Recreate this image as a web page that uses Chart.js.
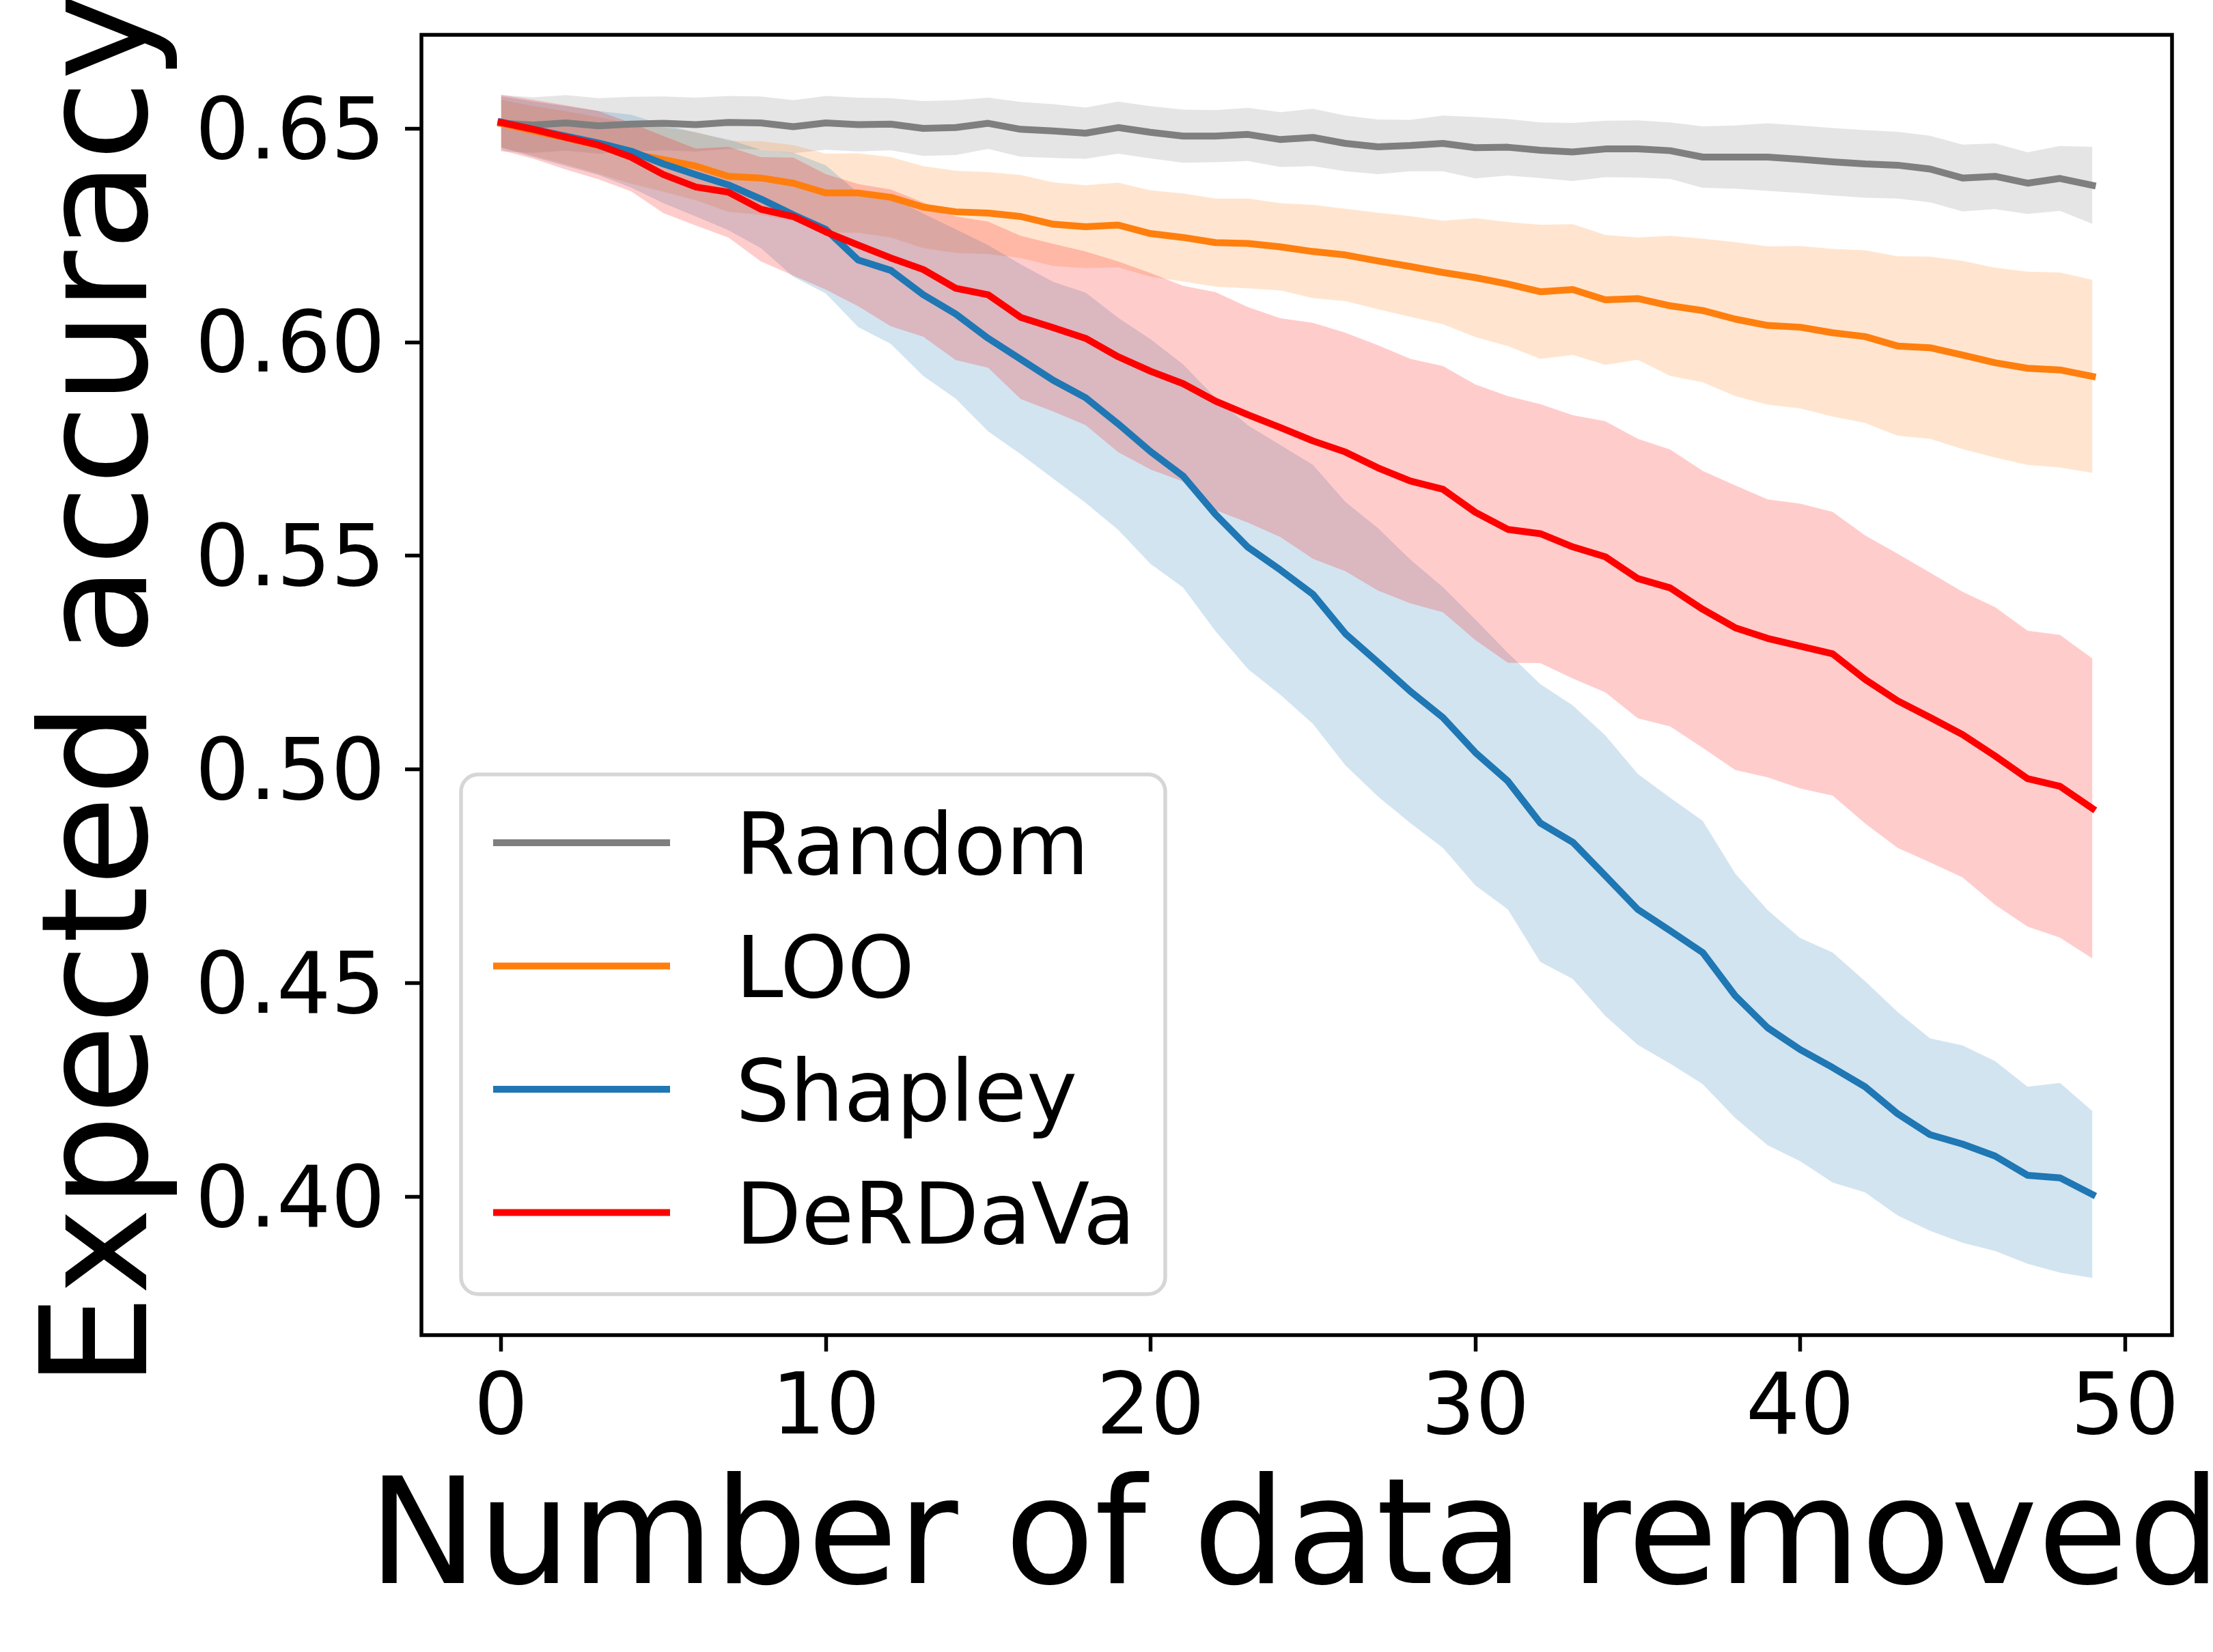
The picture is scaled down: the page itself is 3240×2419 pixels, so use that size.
<!DOCTYPE html>
<html>
<head>
<meta charset="utf-8">
<script src="https://cdn.jsdelivr.net/npm/chart.js@4.4.0/dist/chart.umd.min.js"></script>
<style>
  html, body { margin: 0; padding: 0; background: #fff; }
  canvas { display: block; }
</style>
</head>
<body>
<canvas id="chart" width="3240" height="2419"></canvas>
<script>
// number of data points removed (x)
const removed = [0, 1, 2, 3, 4, 5, 6, 7, 8, 9,
  10, 11, 12, 13, 14, 15, 16, 17, 18, 19,
  20, 21, 22, 23, 24, 25, 26, 27, 28, 29,
  30, 31, 32, 33, 34, 35, 36, 37, 38, 39,
  40, 41, 42, 43, 44, 45, 46, 47, 48, 49];

const xTicks = [0, 10, 20, 30, 40, 50];
const yTicks = [0.40, 0.45, 0.50, 0.55, 0.60, 0.65];

// mean accuracy and spread (shaded band) per method
const randomMean = [0.6512, 0.6508, 0.6513, 0.6506, 0.6510, 0.6512, 0.6509, 0.6514, 0.6513, 0.6504,
  0.6513, 0.6509, 0.6510, 0.6500, 0.6502, 0.6512, 0.6498, 0.6494, 0.6489, 0.6502,
  0.6491, 0.6482, 0.6482, 0.6486, 0.6474, 0.6479, 0.6465, 0.6457, 0.6460, 0.6465,
  0.6455, 0.6456, 0.6449, 0.6445, 0.6452, 0.6452, 0.6448, 0.6433, 0.6433, 0.6433,
  0.6428, 0.6422, 0.6417, 0.6414, 0.6405, 0.6384, 0.6388, 0.6372, 0.6383, 0.6367];
const randomStd = [0.0066, 0.0065, 0.0065, 0.0065, 0.0064, 0.0063, 0.0063, 0.0062, 0.0062, 0.0062,
  0.0063, 0.0063, 0.0061, 0.0064, 0.0064, 0.0060, 0.0064, 0.0063, 0.0060, 0.0061,
  0.0061, 0.0062, 0.0061, 0.0062, 0.0064, 0.0067, 0.0065, 0.0064, 0.0060, 0.0065,
  0.0072, 0.0066, 0.0065, 0.0068, 0.0066, 0.0067, 0.0066, 0.0072, 0.0074, 0.0079,
  0.0079, 0.0079, 0.0079, 0.0078, 0.0078, 0.0078, 0.0077, 0.0072, 0.0076, 0.0090];

const looMean = [0.6512, 0.6494, 0.6478, 0.6460, 0.6441, 0.6427, 0.6412, 0.6388, 0.6384, 0.6372,
  0.6349, 0.6349, 0.6339, 0.6316, 0.6305, 0.6302, 0.6294, 0.6276, 0.6270, 0.6274,
  0.6254, 0.6245, 0.6233, 0.6231, 0.6223, 0.6212, 0.6204, 0.6190, 0.6177, 0.6163,
  0.6151, 0.6136, 0.6118, 0.6123, 0.6099, 0.6102, 0.6085, 0.6074, 0.6054, 0.6039,
  0.6035, 0.6022, 0.6013, 0.5991, 0.5987, 0.5970, 0.5952, 0.5939, 0.5935, 0.5920];
const looStd = [0.0055, 0.0058, 0.0062, 0.0066, 0.0070, 0.0075, 0.0080, 0.0083, 0.0086, 0.0089,
  0.0092, 0.0093, 0.0094, 0.0096, 0.0096, 0.0096, 0.0097, 0.0098, 0.0097, 0.0099,
  0.0101, 0.0103, 0.0103, 0.0105, 0.0102, 0.0109, 0.0108, 0.0113, 0.0118, 0.0121,
  0.0139, 0.0145, 0.0157, 0.0153, 0.0152, 0.0143, 0.0164, 0.0168, 0.0180, 0.0185,
  0.0190, 0.0196, 0.0202, 0.0210, 0.0213, 0.0220, 0.0222, 0.0226, 0.0228, 0.0226];

const shapleyMean = [0.6515, 0.6498, 0.6482, 0.6466, 0.6447, 0.6417, 0.6392, 0.6368, 0.6335, 0.6298,
  0.6264, 0.6192, 0.6168, 0.6111, 0.6066, 0.6009, 0.5960, 0.5911, 0.5870, 0.5809,
  0.5744, 0.5687, 0.5597, 0.5520, 0.5467, 0.5410, 0.5318, 0.5251, 0.5183, 0.5122,
  0.5040, 0.4973, 0.4875, 0.4830, 0.4752, 0.4673, 0.4623, 0.4572, 0.4471, 0.4396,
  0.4345, 0.4303, 0.4258, 0.4195, 0.4146, 0.4124, 0.4096, 0.4051, 0.4045, 0.4006];
const shapleyStd = [0.0060, 0.0065, 0.0070, 0.0075, 0.0085, 0.0092, 0.0098, 0.0106, 0.0115, 0.0145,
  0.0150, 0.0157, 0.0172, 0.0190, 0.0198, 0.0218, 0.0222, 0.0230, 0.0246, 0.0248,
  0.0263, 0.0261, 0.0273, 0.0285, 0.0292, 0.0303, 0.0308, 0.0314, 0.0308, 0.0305,
  0.0311, 0.0300, 0.0325, 0.0320, 0.0328, 0.0317, 0.0311, 0.0308, 0.0286, 0.0275,
  0.0261, 0.0269, 0.0247, 0.0238, 0.0225, 0.0231, 0.0222, 0.0207, 0.0222, 0.0195];

const derdavaMean = [0.6514, 0.6498, 0.6479, 0.6461, 0.6433, 0.6392, 0.6363, 0.6351, 0.6311, 0.6294,
  0.6258, 0.6227, 0.6197, 0.6170, 0.6126, 0.6111, 0.6058, 0.6034, 0.6009, 0.5966,
  0.5932, 0.5903, 0.5862, 0.5830, 0.5800, 0.5769, 0.5743, 0.5706, 0.5675, 0.5656,
  0.5602, 0.5562, 0.5552, 0.5521, 0.5498, 0.5447, 0.5425, 0.5375, 0.5332, 0.5307,
  0.5289, 0.5271, 0.5211, 0.5161, 0.5122, 0.5082, 0.5032, 0.4979, 0.4961, 0.4909];
const derdavaStd = [0.0065, 0.0069, 0.0075, 0.0080, 0.0080, 0.0090, 0.0090, 0.0106, 0.0122, 0.0138,
  0.0135, 0.0143, 0.0160, 0.0157, 0.0168, 0.0171, 0.0191, 0.0196, 0.0203, 0.0223,
  0.0230, 0.0229, 0.0255, 0.0252, 0.0256, 0.0276, 0.0279, 0.0287, 0.0286, 0.0288,
  0.0299, 0.0312, 0.0303, 0.0308, 0.0317, 0.0327, 0.0324, 0.0324, 0.0333, 0.0325,
  0.0333, 0.0332, 0.0337, 0.0344, 0.0339, 0.0334, 0.0348, 0.0346, 0.0354, 0.0351];

const FONT = '"DejaVu Sans", sans-serif';
const TICK_SIZE = 125;
const LABEL_SIZE = 215;

// legend order (top to bottom)
const series = [
  { label: 'Random', mean: randomMean, std: randomStd, color: '#7f7f7f', band: 'rgba(127,127,127,0.2)' },
  { label: 'LOO', mean: looMean, std: looStd, color: '#ff7f0e', band: 'rgba(255,127,14,0.2)' },
  { label: 'Shapley', mean: shapleyMean, std: shapleyStd, color: '#1f77b4', band: 'rgba(31,119,180,0.2)' },
  { label: 'DeRDaVa', mean: derdavaMean, std: derdavaStd, color: '#ff0000', band: 'rgba(255,0,0,0.2)' }
];

const pts = (arr) => removed.map((x, i) => ({ x: x, y: arr[i] }));

// dataset 0 is painted last, so later methods go first
const drawOrder = series.slice().reverse();
const lineSets = drawOrder.map(s => ({
  label: s.label,
  data: pts(s.mean),
  borderColor: s.color,
  borderWidth: 10,
  borderJoinStyle: 'round',
  borderCapStyle: 'square',
  pointRadius: 0,
  fill: false
}));
const bandSets = [];
drawOrder.forEach(s => {
  bandSets.push({
    label: s.label + ' upper',
    data: pts(s.mean.map((m, i) => m + s.std[i])),
    borderWidth: 0,
    pointRadius: 0,
    fill: false
  });
  bandSets.push({
    label: s.label + ' lower',
    data: pts(s.mean.map((m, i) => m - s.std[i])),
    borderWidth: 0,
    pointRadius: 0,
    backgroundColor: s.band,
    fill: '-1'
  });
});

const frameAndText = {
  id: 'frameAndText',
  afterDraw(chart) {
    const { ctx, chartArea: ca } = chart;
    ctx.save();

    // axes box
    ctx.lineWidth = 5.5;
    ctx.strokeStyle = '#000';
    ctx.strokeRect(ca.left, ca.top, ca.right - ca.left, ca.bottom - ca.top);

    // legend, lower left
    const w = 1031, h = 761;
    const x0 = ca.left + 58, y0 = ca.bottom - 60 - h;
    ctx.beginPath();
    ctx.roundRect(x0, y0, w, h, 25);
    ctx.fillStyle = 'rgba(255,255,255,0.8)';
    ctx.fill();
    ctx.lineWidth = 5.5;
    ctx.strokeStyle = 'rgba(204,204,204,0.8)';
    ctx.stroke();
    ctx.font = TICK_SIZE + 'px ' + FONT;
    ctx.textAlign = 'left';
    ctx.textBaseline = 'alphabetic';
    series.forEach((s, i) => {
      const cy = y0 + 100 + i * 180.5;
      ctx.beginPath();
      ctx.moveTo(x0 + 47, cy);
      ctx.lineTo(x0 + 306, cy);
      ctx.lineWidth = 10;
      ctx.lineCap = 'butt';
      ctx.strokeStyle = s.color;
      ctx.stroke();
      ctx.fillStyle = '#000';
      ctx.fillText(s.label, x0 + 402, cy + 0.729 * TICK_SIZE / 2);
    });

    // axis titles
    ctx.fillStyle = '#000';
    ctx.font = LABEL_SIZE + 'px ' + FONT;
    ctx.textAlign = 'center';
    ctx.textBaseline = 'alphabetic';
    ctx.fillText('Number of data removed', (ca.left + ca.right) / 2 - 3, ca.bottom + 363);
    ctx.translate(ca.left - 403.5, (ca.top + ca.bottom) / 2 + 8);
    ctx.rotate(-Math.PI / 2);
    ctx.fillText('Expected accuracy', 0, 0);
    ctx.restore();
  }
};

new Chart(document.getElementById('chart'), {
  type: 'line',
  data: { datasets: lineSets.concat(bandSets) },
  options: {
    responsive: false,
    animation: false,
    devicePixelRatio: 1,
    layout: { padding: { left: 0, right: 60, top: 51, bottom: 0 } },
    elements: { line: { tension: 0 }, point: { radius: 0 } },
    plugins: {
      legend: { display: false },
      tooltip: { enabled: false },
      filler: { drawTime: 'beforeDatasetsDraw' }
    },
    scales: {
      x: {
        type: 'linear',
        min: -2.45,
        max: 51.45,
        afterBuildTicks: (scale) => { scale.ticks = xTicks.map(v => ({ value: v })); },
        afterFit: (scale) => {
          scale.height = 464;
          scale.paddingLeft = 0; scale.paddingRight = 0;
        },
        border: { display: false },
        grid: { drawOnChartArea: false, drawTicks: true, tickLength: 24, tickWidth: 5.5, tickColor: '#000' },
        ticks: {
          color: '#000',
          font: { family: FONT, size: TICK_SIZE, lineHeight: 1 },
          padding: 25,
          maxRotation: 0,
          autoSkip: false,
          callback: (v) => String(v)
        }
      },
      y: {
        type: 'linear',
        min: 0.3677,
        max: 0.6719,
        afterBuildTicks: (scale) => { scale.ticks = yTicks.map(v => ({ value: v })); },
        afterFit: (scale) => {
          scale.width = 617;
          scale.paddingTop = 0; scale.paddingBottom = 0;
        },
        border: { display: false },
        grid: { drawOnChartArea: false, drawTicks: true, tickLength: 24, tickWidth: 5.5, tickColor: '#000' },
        ticks: {
          color: '#000',
          font: { family: FONT, size: TICK_SIZE, lineHeight: 1 },
          padding: 29,
          labelOffset: 11,
          autoSkip: false,
          callback: (v) => v.toFixed(2)
        }
      }
    }
  },
  plugins: [frameAndText]
});
</script>
</body>
</html>
